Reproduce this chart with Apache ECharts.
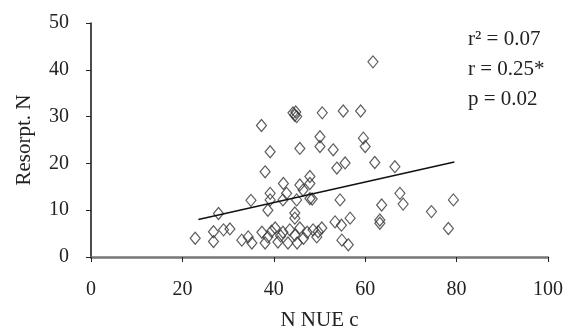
<!DOCTYPE html>
<html><head><meta charset="utf-8">
<script src="https://cdn.jsdelivr.net/npm/echarts@6/dist/echarts.min.js"></script>
<style>html,body{margin:0;padding:0;background:#fff}#c{width:570px;height:328px}</style>
</head><body><div id="c"></div>
<script>
const xValues = [61.7,44.6,44.2,45.0,44.8,50.6,55.2,59.0,37.3,39.2,45.7,50.1,50.1,53.0,59.6,60.0,55.6,62.1,38.1,66.5,47.9,53.8,42.1,45.7,47.9,39.2,42.8,46.4,47.9,54.5,35.0,39.2,42.0,45.0,48.4,38.7,44.6,44.6,27.9,67.6,68.3,63.6,63.2,63.2,56.7,54.8,56.3,53.4,54.9,79.3,74.5,78.2,22.8,26.8,26.8,29.0,30.4,33.0,34.4,35.2,37.4,38.7,40.3,42.0,43.5,44.6,45.7,47.3,48.6,50.5,38.1,40.9,43.1,45.1,49.7,49.4,41.5,39.5,46.5];
const yValues = [41.7,30.3,30.8,30.0,31.0,30.8,31.2,31.2,28.1,22.5,23.2,25.7,23.6,22.9,25.4,23.6,20.1,20.2,18.2,19.3,17.2,19.0,15.7,15.4,15.7,13.6,13.6,14.3,12.5,12.2,12.1,12.2,12.2,12.2,12.4,10.0,9.4,8.3,9.3,13.6,11.3,11.1,7.9,7.2,8.3,6.8,2.6,7.5,3.6,12.2,9.7,6.1,4.0,5.4,3.3,5.8,6.0,3.6,4.3,3.0,5.3,4.3,6.2,5.3,5.8,4.7,6.2,5.3,5.8,6.2,3.0,3.2,3.0,3.0,5.4,4.3,4.5,5.5,4.0];
const trendX = [23.5, 79.5];
const trendY = [8.0, 20.3];
const xTicks = [0,20,40,60,80,100];
const yTicks = [0,10,20,30,40,50];
const statLines = ['r\u00B2 = 0.07','r = 0.25*','p = 0.02'];
const xName = 'N NUE c';
const yName = 'Resorpt. N';

const pts = xValues.map((x,i)=>[x,yValues[i]]);
const trend = trendX.map((x,i)=>[x,trendY[i]]);
const font = 'Liberation Serif';
const chart = echarts.init(document.getElementById('c'));
chart.setOption({
  animation:false,
  backgroundColor:'#fff',
  grid:{left:91,right:22,top:23,bottom:71,containLabel:false,outerBoundsMode:'none'},
  xAxis:{type:'value',min:xTicks[0],max:xTicks[xTicks.length-1],interval:xTicks[1]-xTicks[0],
    name:xName,nameLocation:'middle',nameGap:53,
    nameTextStyle:{fontFamily:font,fontSize:21,color:'#222'},
    axisLine:{lineStyle:{color:'#777',width:2.5}},
    axisTick:{show:true,length:5,lineStyle:{color:'#222',width:1}},
    axisLabel:{fontFamily:font,fontSize:20,color:'#222',margin:23},
    splitLine:{show:false}},
  yAxis:{type:'value',min:yTicks[0],max:yTicks[yTicks.length-1],interval:yTicks[1]-yTicks[0],
    name:yName,nameLocation:'middle',nameGap:56,
    nameTextStyle:{fontFamily:font,fontSize:21,color:'#222'},
    axisLine:{show:true,lineStyle:{color:'#111',width:1.5}},
    axisTick:{show:true,length:5,lineStyle:{color:'#222',width:1}},
    axisLabel:{fontFamily:font,fontSize:20,color:'#222',margin:22},
    splitLine:{show:false}},
  series:[
    {type:'scatter',data:pts,symbol:'diamond',symbolSize:[10,12],
      itemStyle:{color:'rgba(255,255,255,0)',borderColor:'#333',borderWidth:1.2}},
    {type:'line',data:trend,showSymbol:false,symbol:'none',
      lineStyle:{color:'#111',width:1.5}}
  ],
  graphic:statLines.map((t,i)=>({type:'text',left:468,top:29+i*30,
    style:{text:t,fontFamily:font,fontSize:21,fill:'#222'}}))
});
</script></body></html>
